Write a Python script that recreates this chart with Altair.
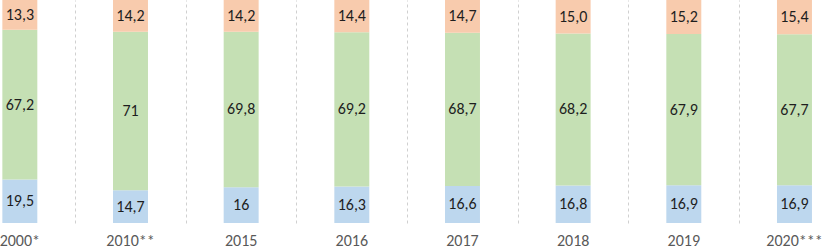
import altair as alt
import pandas as pd

years = ["2000*", "2010**", "2015", "2016", "2017", "2018", "2019", "2020***"]
bottom_vals = [19.5, 14.7, 16, 16.3, 16.6, 16.8, 16.9, 16.9]
middle_vals = [67.2, 71, 69.8, 69.2, 68.7, 68.2, 67.9, 67.7]
top_vals = [13.3, 14.2, 14.2, 14.4, 14.7, 15.0, 15.2, 15.4]
bottom_lbl = ["19,5", "14,7", "16", "16,3", "16,6", "16,8", "16,9", "16,9"]
middle_lbl = ["67,2", "71", "69,8", "69,2", "68,7", "68,2", "67,9", "67,7"]
top_lbl = ["13,3", "14,2", "14,2", "14,4", "14,7", "15,0", "15,2", "15,4"]
series = ["bottom", "middle", "top"]
colors = ["#bdd7ee", "#c5e0b4", "#f8cbad"]

rows = []
for i, y in enumerate(years):
    for k, (vals, lbls) in enumerate([(bottom_vals, bottom_lbl), (middle_vals, middle_lbl), (top_vals, top_lbl)]):
        rows.append({"year": y, "series": series[k], "idx": k, "value": vals[i], "label": lbls[i]})
df = pd.DataFrame(rows)

FONT = "Carlito, Calibri, Liberation Sans, sans-serif"
RANGE = [-35.5, 849.8]

xscale = alt.Scale(domain=years, range=RANGE, paddingInner=0.684, paddingOuter=0.342)
gridscale = alt.Scale(domain=years, range=RANGE, paddingInner=0, paddingOuter=0)
yscale = alt.Scale(domain=[0, 1])

base = (
    alt.Chart(df)
    .transform_stack(stack="value", as_=["y0", "y1"], groupby=["year"],
                     sort=[alt.SortField("idx", order="ascending")], offset="normalize")
    .transform_calculate(mid="(datum.y0 + datum.y1) / 2")
)

grid = base.mark_bar(opacity=0).encode(
    x=alt.X("year:N", scale=gridscale, sort=years,
            axis=alt.Axis(title=None, ticks=False, domain=False, labels=False, orient="top",
                          grid=True, tickBand="extent",
                          gridDash=[3, 3], gridColor="#d0d0d0", gridWidth=1)),
    y=alt.Y("y0:Q", scale=yscale, axis=None),
    y2="y1:Q",
)

bars = base.mark_bar().encode(
    x=alt.X("year:N", scale=xscale, sort=years,
            axis=alt.Axis(title=None, ticks=False, domain=False, labelAngle=0,
                          labelFont=FONT, labelFontSize=16, labelColor="#595959",
                          labelPadding=9, grid=False)),
    y=alt.Y("y0:Q", scale=yscale, axis=None),
    y2="y1:Q",
    color=alt.Color("series:N", scale=alt.Scale(domain=series, range=colors), legend=None),
)

texts = base.mark_text(font=FONT, fontSize=16, color="#1e1e1e", baseline="middle").encode(
    x=alt.X("year:N", scale=xscale, sort=years),
    y=alt.Y("mid:Q", scale=yscale),
    text="label:N",
)

chart = (
    alt.layer(grid, alt.layer(bars, texts))
    .resolve_scale(x="independent")
    .properties(width=823, height=223,
                padding={"left": 0, "top": 0, "right": 0, "bottom": 27},
                autosize=alt.AutoSizeParams(type="none"))
    .configure_view(stroke=None)
)

chart.save("out.html", embed_options={"renderer": "svg", "actions": False})
